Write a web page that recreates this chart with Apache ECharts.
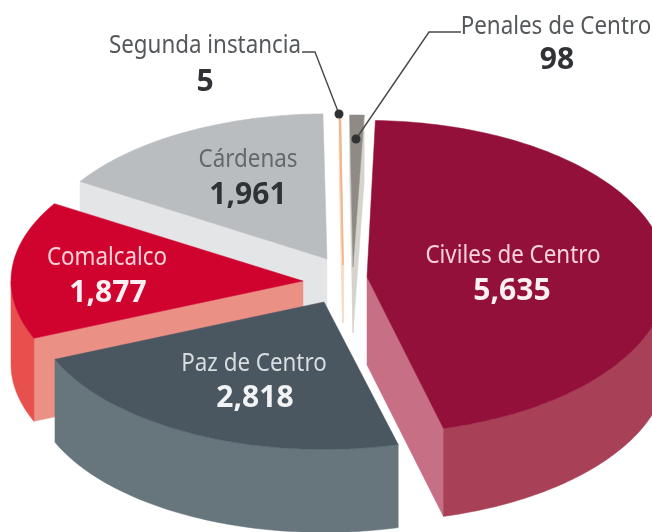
<!DOCTYPE html>
<html><head><meta charset="utf-8">
<style>html,body{margin:0;padding:0;background:#fff}#c{width:652px;height:532px}</style>
<script src="https://cdn.jsdelivr.net/npm/echarts@6/dist/echarts.min.js"></script>
</head><body><div id="c"></div>
<script>
// Data (clockwise from the top)
var categories = ['Civiles de Centro','Paz de Centro','Comalcalco','Cárdenas','Segunda instancia','Penales de Centro'];
var values = [5635,2818,1877,1961,5,98];

// Layout of the exploded slices
var startAngle = 1.6, rx = 292, ry = 152;
var apexX = [367,324,303,327,343,353];
var apexY = [277,302,281,259,265,267];
var radiusScale = [1.03,1,1,1,1,1];
var flatten = [1,0.97,0.97,0.955,1,1];
var depth = [88,83,83,83,58,66];
var nudge = [0,0,0,0.6,0.7,0.6];
var paint = [4,5,3,2,1,1];
// Styles
var topColor = ['#93103a','#4a5760','#d0022e','#babdc0','#f2b48c','#8f8a85'];
var edgeColor = ['#c76f84','#67757c','#ea9085','#e4e5e7','#f7dcc8','#d6d2cc'];
var rimColor = ['#a84058','#67757c','#e8504e','#e4e5e7','#f7dcc8','#d6d2cc'];
var nameColor = ['#f9d3db','#d8dde0','#fbd3d8','#63686c','#55585b','#55585b'];
var valueColor = ['#fdf0f2','#f1f3f4','#fdf0f2','#2e3236','#303235','#303235'];
var nameXY = [[513,256],[254,364],[107,258],[248,160],[205,46],[556,27]];
var valueXY = [[512,291],[255,398],[108,293],[248,195],[205,82],[557,60]];

var total = values.reduce(function(a,b){return a+b;},0);
function fmt(v){return String(v).replace(/\B(?=(\d{3})+$)/g,',');}

function renderItem(params, api){
  var i = params.dataIndex, v = api.value(0), sum = 0;
  for (var k=0;k<i;k++) sum += values[k];
  var a0 = startAngle + nudge[i] + sum/total*360, a1 = a0 + v/total*360;
  var ax = apexX[i], ay = apexY[i], s = radiusScale[i], f = flatten[i], d = depth[i];
  function pt(a, dy){ var r=a*Math.PI/180; return [ax+rx*s*Math.sin(r), ay-ry*s*f*Math.cos(r)+(dy||0)]; }
  var kids = [], z = paint[i]*10;
  function poly(points, fill, zz, stroke){
    kids.push({type:'polygon',z2:z+zz,shape:{points:points},
      style:{fill:fill,stroke:stroke||fill,lineWidth:stroke?1.6:0.5}});
  }
  // radial walls, where the slice lies above the edge on screen
  var mid = pt((a0+a1)/2);
  [a0,a1].forEach(function(a){
    var q = pt(a), sliver = (a1-a0)<5;
    var dx=q[0]-ax, dy=q[1]-ay, side = dx*(mid[1]-ay)-dy*(mid[0]-ax);
    var above = dx>0 ? side<0 : side>0;
    if (above || sliver) poly([[ax,ay],q,[q[0],q[1]+d],[ax,ay+d]], edgeColor[i], 0, sliver&&(a1-a0)<1?edgeColor[i]:null);
  });
  // outer rim on the near half
  var from = Math.max(a0,90), to = Math.min(a1,270);
  if (to>from){
    var up=[],dn=[];
    for (var a=from;a<to;a+=1){up.push(pt(a));dn.unshift(pt(a,d));}
    up.push(pt(to));dn.unshift(pt(to,d));
    poly(up.concat(dn), rimColor[i], 1);
  }
  // top face
  var face=[[ax,ay]];
  for (var b=a0;b<a1;b+=1) face.push(pt(b));
  face.push(pt(a1));
  poly(face, topColor[i], 2, (a1-a0)<1?topColor[i]:null);
  // labels
  kids.push({type:'text',z2:100,x:nameXY[i][0],y:nameXY[i][1],scaleX:0.86,
    style:{x:0,y:0,text:categories[i],fill:nameColor[i],fontFamily:'Noto Sans',fontSize:26,align:'center',verticalAlign:'middle'}});
  kids.push({type:'text',z2:100,x:valueXY[i][0],y:valueXY[i][1],scaleX:0.97,
    style:{x:0,y:0,text:fmt(v),fill:valueColor[i],fontFamily:'Noto Sans',fontWeight:'bold',fontSize:31,align:'center',verticalAlign:'middle'}});
  return {type:'group',children:kids};
}

var chart = echarts.init(document.getElementById('c'),null,{renderer:'canvas'});
var leader = {stroke:'#46484a',lineWidth:1.4,fill:null};
chart.setOption({
  animation:false,
  backgroundColor:'#ffffff',
  series:[{type:'custom',coordinateSystem:'none',renderItem:renderItem,clip:false,
    data:values.map(function(v,i){return {name:categories[i],value:[v]};})}],
  graphic:[
    {type:'polyline',z:10,shape:{points:[[302,52],[315,52],[339,114]]},style:leader},
    {type:'polyline',z:10,shape:{points:[[461,32],[429,32],[356,139]]},style:leader},
    {type:'circle',z:10,shape:{cx:339,cy:114,r:4.5},style:{fill:'#2f3133'}},
    {type:'circle',z:10,shape:{cx:356,cy:139,r:4.5},style:{fill:'#2f3133'}}
  ]
});
</script></body></html>
